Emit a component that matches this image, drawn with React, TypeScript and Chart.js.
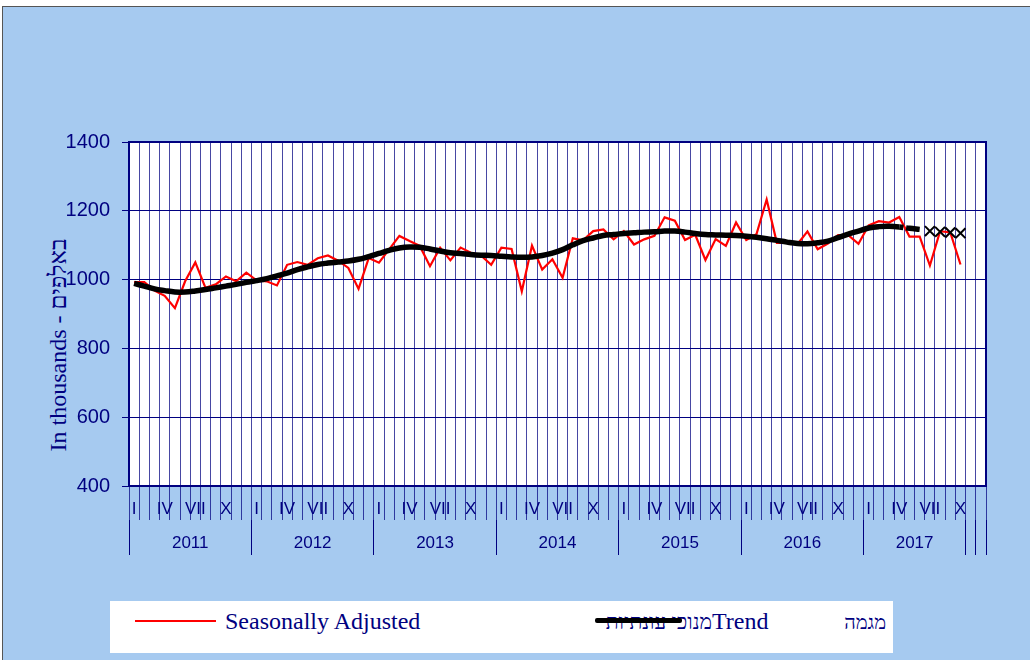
import React, { useEffect, useRef } from "react";
import { Chart, registerables } from "chart.js";

Chart.register(...registerables);

const years = ["2011", "2012", "2013", "2014", "2015", "2016", "2017"];
const monthsPerYear = [12, 12, 12, 12, 12, 12, 10];
const extraCategories = 2;
const monthMarks: Record<number, string> = { 1: "I", 4: "IV", 7: "VII", 10: "X" };

const seasonallyAdjusted = [
  993, 993, 968, 953, 917, 995, 1050, 976, 986, 1009, 995, 1020,
  998, 995, 983, 1043, 1051, 1043, 1062, 1070, 1055, 1034, 973, 1063,
  1049, 1088, 1127, 1112, 1098, 1039, 1093, 1056, 1093, 1078, 1070, 1043,
  1093, 1089, 966, 1099, 1029, 1059, 1005, 1120, 1114, 1141, 1146, 1117,
  1141, 1102, 1117, 1127, 1181, 1171, 1115, 1130, 1057, 1118, 1098, 1166,
  1115, 1132, 1233, 1107, 1107, 1102, 1140, 1088, 1105, 1129, 1129, 1104,
  1158, 1170, 1166, 1182, 1125, 1125, 1041, 1141, 1137, 1044,
];

const trend = [
  989, 981, 973, 968, 964, 964, 967, 971, 976, 981, 986, 992,
  997, 1003, 1011, 1019, 1029, 1037, 1044, 1048, 1051, 1054, 1059, 1067,
  1076, 1085, 1092, 1095, 1094, 1089, 1083, 1078, 1076, 1073, 1071, 1070,
  1068, 1066, 1065, 1066, 1070, 1077, 1087, 1101, 1113, 1121, 1128, 1131,
  1134, 1136, 1138, 1139, 1141, 1141, 1138, 1134, 1131, 1130, 1129, 1128,
  1126, 1123, 1119, 1114, 1109, 1105, 1104, 1107, 1112, 1122, 1132, 1141,
  1150, 1154, 1155, 1153, 1149, 1146,
];
const trendDashedFrom = 75;

const forecastStart = 78;
const forecast = [1141, 1139, 1137, 1135];

const yTicks = [400, 600, 800, 1000, 1200, 1400];

const NAVY = "#000080";
const GRID_V = "rgba(0,0,128,0.72)";
const BLUE_BG = "#A6CAF0";

// derived category structure
const monthLabels: string[] = [];
monthsPerYear.forEach((n) => {
  for (let m = 1; m <= n; m++) monthLabels.push(monthMarks[m] ?? "");
});
for (let i = 0; i < extraCategories; i++) monthLabels.push("");
const nCat = monthLabels.length;

const yearBoundaries: number[] = [-0.5];
const yearCenters: number[] = [];
{
  let start = 0;
  monthsPerYear.forEach((n) => {
    yearCenters.push(start + n / 2 - 0.5);
    start += n;
    yearBoundaries.push(start - 0.5);
  });
  for (let i = 0; i < extraCategories; i++) {
    start += 1;
    yearBoundaries.push(start - 0.5);
  }
}

const forecastData: (number | null)[] = monthLabels.map(() => null);
forecast.forEach((v, i) => (forecastData[forecastStart + i] = v));

const plotFrame = {
  id: "plotFrame",
  beforeDraw(chart: any) {
    const { ctx, chartArea: a } = chart;
    ctx.save();
    ctx.fillStyle = "#ffffff";
    ctx.fillRect(a.left, a.top, a.right - a.left, a.bottom - a.top);
    ctx.restore();
  },
  beforeDatasetsDraw(chart: any) {
    const { ctx, chartArea: a } = chart;
    ctx.save();
    ctx.strokeStyle = NAVY;
    ctx.lineWidth = 2;
    ctx.strokeRect(a.left, a.top, a.right - a.left, a.bottom - a.top);
    ctx.restore();
  },
};

export default function App() {
  const ref = useRef<HTMLCanvasElement | null>(null);

  useEffect(() => {
    if (!ref.current) return;
    const chart = new Chart(ref.current, {
      type: "line",
      data: {
        labels: monthLabels,
        datasets: [
          {
            label: "Trend",
            data: trend,
            borderColor: "#000000",
            borderWidth: 5.5,
            pointRadius: 0,
            tension: 0.4,
            borderCapStyle: "butt",
            segment: {
              borderDash: (ctx: any) =>
                ctx.p0DataIndex >= trendDashedFrom ? [4, 3, 14, 3] : undefined,
            },
            order: 0,
          },
          {
            label: "מגמה",
            data: forecastData,
            borderColor: "#000000",
            backgroundColor: "#000000",
            pointStyle: "crossRot",
            pointRadius: 7,
            pointBorderWidth: 2,
            showLine: false,
            order: 1,
          },
          {
            label: "Seasonally Adjusted",
            data: seasonallyAdjusted,
            borderColor: "#FF0000",
            borderWidth: 2.2,
            pointRadius: 0,
            tension: 0,
            order: 2,
          },
        ],
      },
      options: {
        responsive: false,
        animation: false,
        devicePixelRatio: 1,
        layout: { padding: { left: 0, top: 142, right: 44, bottom: 105 } },
        plugins: {
          legend: { display: false },
          tooltip: { enabled: false },
          title: { display: false },
        },
        scales: {
          x: {
            type: "category",
            position: "bottom",
            offset: true,
            weight: 0,
            grid: {
              offset: true,
              color: GRID_V,
              lineWidth: 1,
              tickLength: 34,
              drawOnChartArea: true,
            },
            border: { display: true, color: NAVY, width: 2 },
            ticks: {
              autoSkip: false,
              maxRotation: 0,
              minRotation: 0,
              padding: -21,
              color: NAVY,
              font: { family: "'Liberation Sans', Arial, sans-serif", size: 17 },
            },
            afterFit: (scale: any) => {
              scale.height = 34;
            },
          },
          x2: {
            type: "linear",
            position: "bottom",
            weight: 1,
            min: -0.5,
            max: nCat - 0.5,
            afterBuildTicks: (scale: any) => {
              scale.ticks = [...yearBoundaries, ...yearCenters]
                .sort((a, b) => a - b)
                .map((v) => ({ value: v }));
            },
            grid: {
              drawOnChartArea: false,
              tickLength: 35,
              lineWidth: 1,
              color: (ctx: any) =>
                ctx.tick && yearBoundaries.includes(ctx.tick.value) ? NAVY : "rgba(0,0,0,0)",
              tickColor: (ctx: any) =>
                ctx.tick && yearBoundaries.includes(ctx.tick.value) ? NAVY : "rgba(0,0,0,0)",
            },
            border: { display: false },
            ticks: {
              autoSkip: false,
              maxRotation: 0,
              minRotation: 0,
              padding: -22,
              color: NAVY,
              font: { family: "'Liberation Sans', Arial, sans-serif", size: 17 },
              callback: (value: any) => {
                const idx = yearCenters.indexOf(Number(value));
                return idx >= 0 ? years[idx] : "";
              },
            },
            afterFit: (scale: any) => {
              scale.height = 35;
            },
          },
          y: {
            type: "linear",
            min: 400,
            max: 1400,
            afterBuildTicks: (scale: any) => {
              scale.ticks = yTicks.map((v) => ({ value: v }));
            },
            grid: { color: NAVY, lineWidth: 1, tickLength: 7 },
            border: { display: true, color: NAVY, width: 2 },
            ticks: {
              padding: 12,
              color: NAVY,
              font: { family: "'Liberation Sans', Arial, sans-serif", size: 20 },
              callback: (value: any) => String(value),
            },
            afterFit: (scale: any) => {
              scale.width = 129;
            },
          },
        },
      },
      plugins: [plotFrame],
    });
    return () => chart.destroy();
  }, []);

  const serif = "'Liberation Serif', 'Times New Roman', serif";

  return (
    <div style={{ position: "absolute", left: 0, top: 0, width: 1030, height: 660, background: "#ffffff", overflow: "hidden" }}>
      <div
        style={{
          position: "absolute",
          left: 2,
          top: 6,
          width: 1040,
          height: 670,
          background: BLUE_BG,
          border: "1px solid #555555",
        }}
      />
      <div
        style={{
          position: "absolute",
          left: 58,
          top: 345,
          transform: "translate(-50%, -50%) rotate(-90deg)",
          whiteSpace: "nowrap",
          fontFamily: serif,
          fontSize: 24,
          color: NAVY,
          lineHeight: 1,
        }}
      >
        In thousands - באלפים
      </div>
      <canvas ref={ref} width={1030} height={660} style={{ position: "absolute", left: 0, top: 0, width: 1030, height: 660 }} />
      <div
        style={{
          position: "absolute",
          left: 110,
          top: 601,
          width: 783,
          height: 52,
          background: "#ffffff",
        }}
      >
        <div style={{ position: "absolute", left: 25, top: 19, width: 81, height: 2, background: "#FF0000" }} />
        <div
          style={{
            position: "absolute",
            left: 115,
            top: 6,
            fontFamily: serif,
            fontSize: 24,
            lineHeight: "28px",
            color: NAVY,
            whiteSpace: "nowrap",
          }}
        >
          Seasonally Adjusted
        </div>
        <div
          dir="rtl"
          style={{
            position: "absolute",
            right: 783 - 602,
            top: 7,
            fontFamily: serif,
            fontSize: 21,
            lineHeight: "28px",
            color: NAVY,
            whiteSpace: "nowrap",
          }}
        >
          מנוכי עונתיות
        </div>
        <div style={{ position: "absolute", left: 485, top: 17, width: 87, height: 5, background: "#000000", borderRadius: 2 }} />
        <div
          style={{
            position: "absolute",
            left: 602,
            top: 6,
            fontFamily: serif,
            fontSize: 24,
            lineHeight: "28px",
            color: NAVY,
            whiteSpace: "nowrap",
          }}
        >
          Trend
        </div>
        <div
          dir="rtl"
          style={{
            position: "absolute",
            right: 783 - 776,
            top: 7,
            fontFamily: serif,
            fontSize: 20,
            lineHeight: "28px",
            color: NAVY,
            whiteSpace: "nowrap",
          }}
        >
          מגמה
        </div>
      </div>
    </div>
  );
}
